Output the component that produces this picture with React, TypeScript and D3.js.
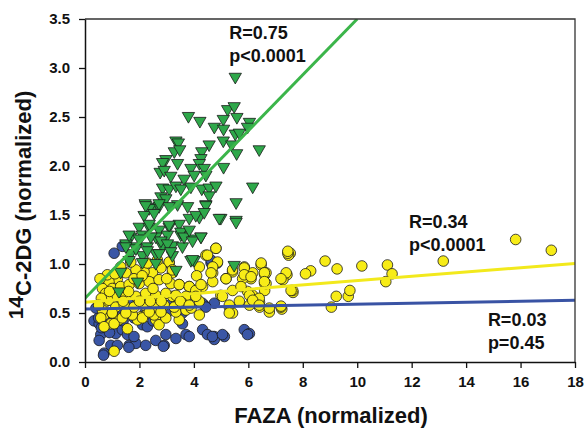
import React, { useRef, useEffect } from "react";
import * as d3 from "d3";

// [FAZA, 14C-2DG]
const greenPoints = [
  [5.52, 2.91], [5.24, 2.58], [5.48, 2.61], [5.58, 2.5], [3.8, 2.51], [4.22, 2.46], [5.08, 2.48],
  [4.75, 2.4], [5.09, 2.38], [6.04, 2.45], [5.97, 2.4], [5.52, 2.33], [5.67, 2.34], [3.34, 2.26],
  [3.43, 2.24], [3.28, 2.15], [3.48, 2.17], [4.56, 2.22], [5.08, 2.26], [5.39, 2.22], [6.4, 2.17],
  [5.57, 2.13], [4.29, 2.15], [2.97, 2.07], [3.4, 2.03], [4.26, 2.08], [4.2, 2.03], [2.85, 2.04],
  [2.76, 1.94], [2.91, 1.96], [3.89, 1.98], [4.38, 1.98], [5.09, 1.99], [3.15, 1.9], [3.64, 1.87],
  [4.01, 1.91], [4.44, 1.91], [2.85, 1.78], [3.09, 1.77], [3.34, 1.8], [3.52, 1.77], [3.89, 1.79],
  [4.29, 1.77], [4.56, 1.78], [4.81, 1.8], [6.16, 1.79], [4.56, 1.7], [2.79, 1.69], [2.97, 1.67],
  [2.21, 1.62], [2.48, 1.58], [2.72, 1.59], [3.77, 1.59], [4.44, 1.61], [5.55, 1.63], [3.4, 1.61],
  [2.36, 1.57], [3.09, 1.59], [3.83, 1.47], [3.46, 1.41], [4.2, 1.48], [4.99, 1.47], [5.55, 1.45],
  [1.99, 1.38], [2.36, 1.38], [3.09, 1.38], [2.72, 1.35], [1.68, 1.28], [2.11, 1.3], [2.6, 1.28],
  [3.03, 1.3], [3.52, 1.3], [3.95, 1.26], [4.26, 1.28], [1.5, 1.21], [1.87, 1.18], [2.29, 1.18],
  [2.85, 1.18], [3.21, 1.19], [3.58, 1.18], [1.68, 1.11], [2.11, 1.09], [2.6, 1.11], [3.21, 1.09],
  [2.23, 1.6], [2.72, 1.62], [2.17, 1.5], [2.54, 1.52], [2.36, 1.41], [3.09, 1.4], [3.52, 1.33],
  [1.62, 1.3], [1.99, 1.26], [2.42, 1.28], [2.79, 1.24], [3.03, 1.21], [1.5, 1.18], [1.87, 1.16],
  [2.29, 1.14], [2.72, 1.11], [3.15, 1.13], [1.62, 1.04], [2.11, 1.02], [2.6, 1.01], [3.34, 0.94],
  [1.31, 0.92], [1.25, 0.72], [1.93, 0.82], [3.89, 1.04], [3.64, 1.28], [4.44, 1.6], [4.07, 1.5],
  [4.38, 1.53], [4.93, 1.47], [5.55, 1.43], [3.95, 1.24], [4.26, 1.28], [4.01, 1.04], [5.48, 0.99],
  [3.83, 1.35], [3.95, 1.05],
];

const bluePoints = [
  [1.07, 1.11], [1.37, 1.18], [0.33, 0.42], [0.52, 0.39], [0.58, 0.28], [0.52, 0.22], [0.7, 0.09],
  [0.95, 0.17], [1.19, 0.17], [0.88, 0.33], [1.13, 0.29], [1.37, 0.33], [1.62, 0.17], [1.87, 0.19],
  [2.23, 0.17], [1.56, 0.28], [1.8, 0.26], [2.6, 0.22], [2.91, 0.17], [2.97, 0.28], [3.34, 0.24],
  [3.71, 0.28], [3.83, 0.26], [4.32, 0.33], [4.5, 0.28], [4.75, 0.26], [4.75, 0.23], [5.12, 0.26],
  [5.85, 0.33], [6.04, 0.29], [3.58, 0.39], [2.11, 0.38], [2.29, 0.36], [0.76, 0.38], [4.63, 1.01],
  [4.86, 1.01], [4.75, 0.6], [4.38, 0.58], [3.58, 0.5], [0.68, 0.07], [1.61, 0.15], [2.88, 0.16],
  [0.5, 0.45], [0.7, 0.5], [1.0, 0.48], [1.4, 0.42], [1.8, 0.45], [2.2, 0.5], [2.5, 0.42],
  [3.0, 0.5], [0.4, 0.55], [1.2, 0.55], [0.6, 0.35], [0.9, 0.3], [4.63, 1.04], [4.31, 0.6],
  [4.44, 0.56], [4.68, 0.26], [5.05, 0.28], [5.97, 0.28], [1.6, 0.62], [2.4, 0.7], [0.8, 0.8],
  [3.2, 0.6],
];

const yellowPoints = [
  [15.82, 1.25], [17.13, 1.14], [13.16, 1.03], [11.11, 0.99], [11.28, 0.9], [11.05, 0.82],
  [10.17, 0.98], [9.26, 0.95], [8.82, 1.03], [8.29, 0.93], [8.1, 0.9], [7.42, 0.89], [7.27, 0.84],
  [7.54, 1.11], [7.48, 1.09], [6.47, 0.99], [6.6, 0.89], [6.6, 0.8], [7.64, 0.71], [7.23, 0.54],
  [6.77, 0.51], [6.41, 0.61], [6.41, 0.56], [9.23, 0.67], [9.67, 0.67], [9.73, 0.73], [9.05, 0.56],
  [6.1, 0.85], [6.16, 0.68], [6.04, 0.58], [6.6, 0.73], [6.47, 1.01], [7.45, 1.11], [7.63, 0.73],
  [7.2, 0.56], [6.28, 0.62], [5.85, 0.97], [6.16, 0.91], [6.65, 0.91], [6.65, 0.8], [5.79, 0.85],
  [5.97, 0.72], [6.4, 0.65], [5.67, 0.62], [5.3, 0.56], [5.42, 0.5], [4.99, 0.68], [5.18, 0.85],
  [5.42, 0.92], [4.69, 0.91], [4.69, 0.82], [4.44, 1.09], [4.81, 1.16], [4.2, 0.97], [4.32, 0.77],
  [3.83, 0.77], [4.01, 0.68], [4.2, 0.62], [3.71, 0.56], [3.46, 0.43], [3.09, 1.01], [3.21, 0.91],
  [3.46, 0.79], [3.21, 0.67], [2.72, 0.63], [2.72, 0.51], [2.6, 0.43], [2.72, 0.38], [2.05, 0.46],
  [2.29, 0.5], [1.93, 0.43], [1.56, 0.34], [1.25, 0.43], [0.95, 0.39], [0.7, 0.48], [1.0, 0.5],
  [1.07, 0.11], [3.09, 1.02], [3.21, 0.94], [2.79, 0.96], [2.48, 0.91], [2.17, 0.92], [1.87, 0.94],
  [1.5, 0.91], [1.19, 0.85], [0.88, 0.82], [0.64, 0.75], [0.76, 0.7], [0.7, 0.6], [0.64, 0.53],
  [0.58, 0.45], [0.7, 0.36], [1.07, 0.39], [1.37, 0.45], [1.74, 0.48], [2.11, 0.45], [2.54, 0.48],
  [2.97, 0.45], [3.34, 0.51], [3.71, 0.53], [1.0, 0.75], [1.31, 0.77], [1.62, 0.79], [1.99, 0.8],
  [2.36, 0.82], [2.72, 0.84], [3.15, 0.8], [3.46, 0.79], [3.83, 0.77], [4.07, 0.73], [0.88, 0.63],
  [1.19, 0.67], [1.5, 0.68], [1.87, 0.67], [2.23, 0.7], [2.6, 0.68], [2.97, 0.7], [3.34, 0.68],
  [3.71, 0.67], [1.13, 0.56], [1.44, 0.58], [1.8, 0.56], [2.17, 0.58], [2.54, 0.56], [2.91, 0.58],
  [3.28, 0.56], [3.58, 0.6], [1.0, 0.5], [1.5, 0.5], [2.36, 0.51], [2.79, 0.51], [0.82, 0.89],
  [1.31, 0.97], [1.68, 1.02], [2.29, 1.01], [2.66, 1.04], [0.9, 0.72], [1.4, 0.62], [1.6, 0.72],
  [1.1, 0.9], [2.0, 0.62], [2.4, 0.62], [2.8, 0.62], [3.0, 0.85], [3.5, 0.62], [3.9, 0.55],
  [4.1, 0.88], [2.5, 0.75], [1.8, 0.85], [2.1, 0.88], [0.6, 0.65], [0.5, 0.58], [0.55, 0.85],
  [4.81, 1.16], [4.5, 1.09], [4.87, 1.02], [4.69, 0.97], [4.63, 0.91], [5.18, 0.85], [5.42, 0.94],
  [5.85, 0.96], [5.85, 0.89], [6.1, 0.87], [6.59, 0.91], [6.59, 0.82], [7.39, 0.91], [7.2, 0.85],
  [7.45, 1.13], [7.57, 0.73], [6.04, 0.68], [6.16, 0.63], [6.4, 0.58], [6.77, 0.55], [7.2, 0.57],
  [5.3, 0.58], [5.3, 0.5], [5.05, 0.67], [5.42, 0.73], [5.73, 0.77], [4.26, 0.79], [4.07, 0.67],
  [4.2, 0.48], [3.83, 0.58],
];

// regression lines
const fits = [
  { name: "blue", intercept: 0.54, slope: 0.005, color: "#3953a4" },
  { name: "yellow", intercept: 0.61, slope: 0.022, color: "#f2e91c" },
  { name: "green", intercept: 0.65, slope: 0.285, color: "#3bb54a" },
];

const annotations = [
  { x: 5.3, y: 3.3, lines: ["R=0.75", "p<0.0001"] },
  { x: 11.9, y: 1.37, lines: ["R=0.34", "p<0.0001"] },
  { x: 14.8, y: 0.37, lines: ["R=0.03", "p=0.45"] },
];

const xTicks = [0, 2, 4, 6, 8, 10, 12, 14, 16, 18];
const yTicks = [0, 0.5, 1, 1.5, 2, 2.5, 3, 3.5];

export default function App() {
  const ref = useRef(null);

  useEffect(() => {
    const svg = d3.select(ref.current);
    svg.selectAll("*").remove();

    const left = 85, right = 575, top = 19, bottom = 362;
    const x = d3.scaleLinear().domain([0, 18]).range([left, right]);
    const y = d3.scaleLinear().domain([0, 3.5]).range([bottom, top]);
    const font = "Liberation Sans, Arial, sans-serif";

    const plot = svg.append("g");

    plot.append("g")
      .selectAll("circle")
      .data(bluePoints)
      .join("circle")
      .attr("cx", (d) => x(d[0]))
      .attr("cy", (d) => y(d[1]))
      .attr("r", 5.3)
      .attr("fill", "#3a56a6")
      .attr("stroke", "#1a1a1a")
      .attr("stroke-width", 0.8);

    plot.append("g")
      .selectAll("circle")
      .data(yellowPoints)
      .join("circle")
      .attr("cx", (d) => x(d[0]))
      .attr("cy", (d) => y(d[1]))
      .attr("r", 5.3)
      .attr("fill", "#f7ec17")
      .attr("stroke", "#1a1a1a")
      .attr("stroke-width", 0.8);

    const tri = d3.symbol().type(d3.symbolTriangle).size(66);
    plot.append("g")
      .selectAll("path")
      .data(greenPoints)
      .join("path")
      .attr("d", tri)
      .attr("transform", (d) => `translate(${x(d[0])},${y(d[1])}) rotate(180)`)
      .attr("fill", "#2ea84a")
      .attr("stroke", "#1a1a1a")
      .attr("stroke-width", 0.8);

    // fit lines, clipped to the plot
    svg.append("clipPath").attr("id", "plotclip")
      .append("rect").attr("x", left).attr("y", top)
      .attr("width", right - left).attr("height", bottom - top);

    const ln = d3.line().x((d) => x(d[0])).y((d) => y(d[1]));
    fits.forEach((f) => {
      const xEnd = Math.min(18, (3.5 - f.intercept) / f.slope);
      svg.append("path")
        .datum([[0, f.intercept], [xEnd, f.intercept + f.slope * xEnd]])
        .attr("d", ln)
        .attr("clip-path", "url(#plotclip)")
        .attr("fill", "none")
        .attr("stroke", f.color)
        .attr("stroke-width", 3);
    });

    // frame top/right
    svg.append("path")
      .attr("d", `M${left},${top}H${right}V${bottom}`)
      .attr("fill", "none")
      .attr("stroke", "#333")
      .attr("stroke-width", 1.3);

    const xAxis = svg.append("g")
      .attr("transform", `translate(0,${bottom})`)
      .call(d3.axisBottom(x).tickValues(xTicks).tickSize(6).tickPadding(8).tickSizeOuter(0));
    const yAxis = svg.append("g")
      .attr("transform", `translate(${left},0)`)
      .call(d3.axisLeft(y).tickValues(yTicks).tickFormat(d3.format(".1f")).tickSize(6).tickPadding(9).tickSizeOuter(0));

    [xAxis, yAxis].forEach((a) => {
      a.select(".domain").attr("stroke", "#111").attr("stroke-width", 1.5);
      a.selectAll(".tick line").attr("stroke", "#111").attr("stroke-width", 1.3);
      a.selectAll(".tick text")
        .attr("font-family", font)
        .attr("font-weight", "bold")
        .attr("font-size", 15)
        .attr("fill", "#111");
    });

    annotations.forEach((a) => {
      const t = svg.append("text")
        .attr("font-family", font)
        .attr("font-weight", "bold")
        .attr("font-size", 18)
        .attr("fill", "#111");
      a.lines.forEach((s, i) => {
        t.append("tspan").attr("x", x(a.x)).attr("y", y(a.y) + i * 23).text(s);
      });
    });

    svg.append("text")
      .attr("x", 331)
      .attr("y", 423)
      .attr("text-anchor", "middle")
      .attr("font-family", font)
      .attr("font-weight", "bold")
      .attr("font-size", 22)
      .attr("fill", "#111")
      .text("FAZA (normalized)");

    const yt = svg.append("text")
      .attr("transform", `translate(31,205) rotate(-90)`)
      .attr("text-anchor", "middle")
      .attr("font-family", font)
      .attr("font-weight", "bold")
      .attr("font-size", 22)
      .attr("fill", "#111");
    yt.append("tspan").attr("font-size", 21).attr("dy", -8).text("14");
    yt.append("tspan").attr("dy", 8).text("C-2DG (normalized)");
  }, []);

  return (
    <div style={{ position: "fixed", left: 0, top: 0 }}>
      <svg ref={ref} width={585} height={429} style={{ display: "block", background: "#fff" }} />
    </div>
  );
}
